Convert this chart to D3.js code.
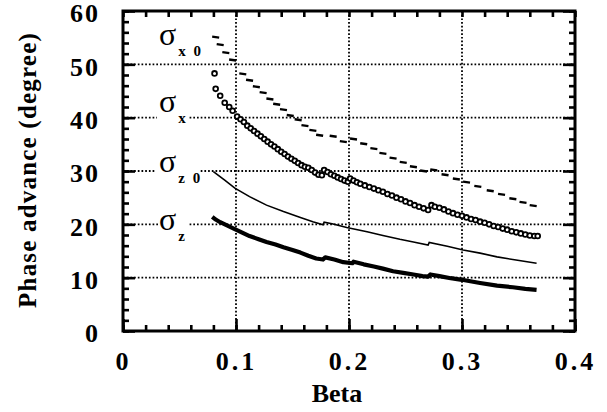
<!DOCTYPE html>
<html>
<head>
<meta charset="utf-8">
<script src="https://cdn.jsdelivr.net/npm/d3@7"></script>
<style>
  body { margin: 0; background: #fff; }
  svg text { font-family: 'Liberation Serif', 'Times New Roman', serif; }
</style>
</head>
<body>
<div id="chart"></div>
<script>
// beta, phase advance (degree)
const sigmaX0 = [[0.082,55.2],[0.086,53.8],[0.091,52.3],[0.097,50.9],[0.106,48.3],[0.112,47.1],[0.118,45.9],[0.124,44.8],[0.130,43.6],[0.136,42.6],[0.142,41.6],[0.148,40.5],[0.155,39.7],[0.161,38.6],[0.168,37.7],[0.174,36.8],[0.186,36.6],[0.195,35.6],[0.204,36.1],[0.213,35.2],[0.222,34.3],[0.230,33.4],[0.239,32.5],[0.248,31.7],[0.257,30.9],[0.266,30.1],[0.275,30.3],[0.285,29.4],[0.295,28.6],[0.304,28.0],[0.314,27.2],[0.325,26.4],[0.335,25.7],[0.345,24.9],[0.354,24.2],[0.363,23.6]];
const sigmaX = [[0.081,48.3],[0.082,45.4],[0.086,44.1],[0.090,42.8],[0.094,42.0],[0.097,41.3],[0.101,40.2],[0.104,39.7],[0.107,39.2],[0.110,38.5],[0.113,38.0],[0.116,37.5],[0.119,37.0],[0.122,36.5],[0.125,36.0],[0.128,35.5],[0.131,35.0],[0.134,34.6],[0.137,34.1],[0.140,33.6],[0.143,33.2],[0.146,32.7],[0.149,32.3],[0.152,31.9],[0.155,31.5],[0.158,31.1],[0.161,30.8],[0.164,30.6],[0.167,30.2],[0.170,29.7],[0.173,29.3],[0.176,29.2],[0.178,30.2],[0.181,29.8],[0.184,29.4],[0.187,29.1],[0.190,28.8],[0.193,28.5],[0.196,28.2],[0.199,28.0],[0.201,28.6],[0.204,28.2],[0.207,27.9],[0.210,27.6],[0.214,27.3],[0.218,27.0],[0.222,26.7],[0.226,26.4],[0.230,26.1],[0.234,25.7],[0.238,25.4],[0.242,25.0],[0.246,24.7],[0.250,24.3],[0.254,24.0],[0.258,23.6],[0.262,23.3],[0.266,23.0],[0.270,22.7],[0.273,23.6],[0.276,23.3],[0.280,23.1],[0.284,22.8],[0.288,22.4],[0.292,22.1],[0.296,21.8],[0.300,21.6],[0.304,21.3],[0.308,21.0],[0.312,20.8],[0.316,20.5],[0.320,20.3],[0.324,20.0],[0.328,19.7],[0.332,19.5],[0.336,19.2],[0.340,19.0],[0.344,18.7],[0.348,18.5],[0.352,18.3],[0.356,18.1],[0.360,17.9],[0.364,17.8],[0.367,17.8]];
const sigmaZ0 = [[0.080,29.9],[0.090,28.3],[0.099,26.8],[0.112,25.2],[0.127,23.6],[0.142,22.4],[0.157,21.3],[0.168,20.5],[0.177,19.9],[0.178,20.4],[0.185,20.1],[0.198,19.4],[0.216,18.6],[0.230,17.9],[0.245,17.2],[0.257,16.7],[0.270,16.1],[0.271,16.6],[0.287,15.9],[0.301,15.2],[0.316,14.6],[0.331,13.9],[0.345,13.4],[0.366,12.7]];
const sigmaZ = [[0.079,21.4],[0.082,20.9],[0.086,20.4],[0.092,19.8],[0.098,19.2],[0.105,18.5],[0.112,17.8],[0.120,17.2],[0.127,16.7],[0.135,16.2],[0.142,15.7],[0.150,15.2],[0.157,14.7],[0.164,14.1],[0.171,13.6],[0.177,13.4],[0.179,13.8],[0.187,13.4],[0.195,12.9],[0.203,12.7],[0.204,13.0],[0.213,12.5],[0.222,12.1],[0.230,11.7],[0.239,11.2],[0.248,10.9],[0.257,10.6],[0.265,10.3],[0.270,10.2],[0.272,10.6],[0.280,10.3],[0.290,9.9],[0.300,9.6],[0.316,9.0],[0.331,8.5],[0.345,8.2],[0.356,7.9],[0.366,7.7]];

const xTicks = [0, 0.1, 0.2, 0.3, 0.4];
const yTicks = [0, 10, 20, 30, 40, 50, 60];
const xTitle = 'Beta';
const yTitle = 'Phase  advance  (degree)';

const draw = () => {
  const W = 607, H = 412;
  const margin = {top: 11, right: 32, bottom: 81, left: 123};
  const width = W - margin.left - margin.right;
  const height = H - margin.top - margin.bottom;
  const root = d3.select('#chart').append('svg').attr('width', W).attr('height', H);
  const svg = root.append('g').attr('transform', `translate(${margin.left},${margin.top})`);

  const x = d3.scaleLinear().domain([0, 0.4]).range([0, width]);
  const y = d3.scaleLinear().domain([0, 60]).range([height, 0]);
  const xMinor = d3.range(0, 0.4001, 0.02);
  const yMinor = d3.range(0, 60.01, 2);

  //grid
  const dots = g => g.attr('stroke', '#000').attr('stroke-width', 1.8).attr('stroke-dasharray', '1.7,2');
  svg.append('g').call(dots).selectAll('line')
    .data(xTicks.slice(1, -1)).join('line')
    .attr('x1', d => x(d)).attr('x2', d => x(d)).attr('y1', 0).attr('y2', height);
  svg.append('g').call(dots).selectAll('line')
    .data(yTicks.slice(1, -1)).join('line')
    .attr('x1', 0).attr('x2', width).attr('y1', d => y(d)).attr('y2', d => y(d));

  //axes, ticks inward on all sides
  const axis = (gen, ticks, size, tr) => svg.append('g')
    .attr('transform', tr)
    .call(gen.tickValues(ticks).tickSize(size).tickFormat(''))
    .call(g => g.select('.domain').remove())
    .call(g => g.selectAll('line').attr('stroke-width', 2.6));
  axis(d3.axisBottom(x), xMinor, -6, `translate(0,${height})`);
  axis(d3.axisBottom(x), xTicks, -12, `translate(0,${height})`);
  axis(d3.axisTop(x), xMinor, -6, 'translate(0,0)');
  axis(d3.axisLeft(y), yMinor, -6, 'translate(0,0)');
  axis(d3.axisLeft(y), yTicks, -12, 'translate(0,0)');
  axis(d3.axisRight(y), yMinor, -6, `translate(${width},0)`);
  axis(d3.axisRight(y), yTicks, -12, `translate(${width},0)`);

  //tick labels
  svg.append('g')
    .attr('transform', `translate(0,${height})`)
    .call(d3.axisBottom(x).tickValues(xTicks).tickSize(0).tickPadding(21).tickFormat(d => d === 0 ? '0' : d3.format('.1f')(d)))
    .call(g => g.select('.domain').remove())
    .selectAll('text')
    .attr('font-weight', 'bold').attr('font-size', 26).attr('letter-spacing', 3).attr('fill', '#000');
  svg.append('g')
    .call(d3.axisLeft(y).tickValues(yTicks).tickSize(0).tickPadding(23).tickFormat(d3.format('d')))
    .call(g => g.select('.domain').remove())
    .selectAll('text')
    .attr('dy', '0.42em')
    .attr('font-weight', 'bold').attr('font-size', 26).attr('letter-spacing', 2).attr('fill', '#000');

  //titles
  root.append('text')
    .attr('x', 337).attr('y', 402)
    .attr('text-anchor', 'middle')
    .attr('font-weight', 'bold').attr('font-size', 26)
    .text(xTitle);
  root.append('text')
    .attr('transform', 'translate(36,170) rotate(-90)')
    .attr('text-anchor', 'middle')
    .attr('font-weight', 'bold').attr('font-size', 25)
    .attr('letter-spacing', 1.2)
    .text(yTitle);

  //series labels on white patches over the grid
  const labels = [
    {sub: 'x 0', v: 53.6, gap: [0, 0]},
    {sub: 'x', v: 41.1, gap: [34, 65]},
    {sub: 'z 0', v: 29.8, gap: [32, 77]},
    {sub: 'z', v: 18.9, gap: [37, 65]}
  ];
  labels.forEach(l => {
    if (l.gap[1] > 0) {
      svg.append('rect')
        .attr('x', l.gap[0]).attr('width', l.gap[1] - l.gap[0])
        .attr('y', y(Math.round(l.v / 10) * 10) - 2).attr('height', 4)
        .attr('fill', '#fff');
    }
    const t = svg.append('text')
      .attr('x', 36).attr('y', y(l.v));
    t.append('tspan').attr('font-size', 32).text('σ');
    t.append('tspan').attr('dx', 2).attr('dy', 11).attr('font-size', 15)
      .attr('font-weight', 'bold').attr('letter-spacing', 2).text(l.sub);
  });

  const line = d3.line().x(d => x(d[0])).y(d => y(d[1]));

  //sigma z0: thin line
  svg.append('path')
    .datum(sigmaZ0)
    .attr('d', line)
    .attr('fill', 'none').attr('stroke', '#000').attr('stroke-width', 1.6);

  //sigma z: heavy line
  svg.append('path')
    .datum(sigmaZ)
    .attr('d', line)
    .attr('fill', 'none').attr('stroke', '#000').attr('stroke-width', 4.2)
    .attr('stroke-linejoin', 'round');

  //sigma x: open circles
  svg.append('g').selectAll('circle')
    .data(sigmaX).join('circle')
    .attr('cx', d => x(d[0])).attr('cy', d => y(d[1]))
    .attr('r', 2.4)
    .attr('fill', '#fff').attr('stroke', '#000').attr('stroke-width', 1.8);

  //sigma x0: short dashes
  svg.append('g').selectAll('line')
    .data(sigmaX0).join('line')
    .attr('x1', d => x(d[0]) - 3.5).attr('x2', d => x(d[0]) + 3.5)
    .attr('y1', d => y(d[1])).attr('y2', d => y(d[1]) + 1)
    .attr('stroke', '#000').attr('stroke-width', 2.4);

  //frame
  svg.append('rect')
    .attr('width', width).attr('height', height)
    .attr('fill', 'none').attr('stroke', '#000').attr('stroke-width', 3);
};

draw();
</script>
</body>
</html>
